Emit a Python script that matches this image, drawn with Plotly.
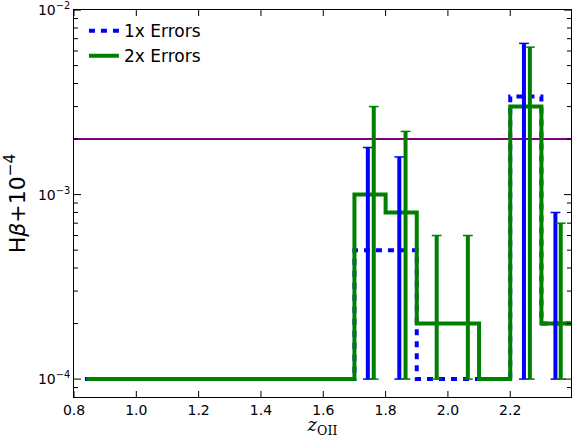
import plotly.graph_objects as go

# Step histograms (bin edges and values)
edges_1x = [0.835, 1.7, 1.8, 1.9, 2.0, 2.1, 2.2, 2.3, 2.4]
vals_1x = [1e-4, 5e-4, 5e-4, 1e-4, 1e-4, 1e-4, 3.4e-3, 2e-4]
edges_2x = [0.84, 1.7, 1.8, 1.9, 2.0, 2.1, 2.2, 2.3, 2.4]
vals_2x = [1e-4, 1e-3, 8e-4, 2e-4, 2e-4, 1e-4, 3.0e-3, 2e-4]

# Error bars (x position, top value; bottom at 1e-4)
err_x_1x = [1.743, 1.844, 2.244, 2.345]
err_top_1x = [1.8e-3, 1.6e-3, 6.6e-3, 8e-4]
err_x_2x = [1.762, 1.864, 1.964, 2.064, 2.263, 2.362]
err_top_2x = [3.0e-3, 2.2e-3, 6e-4, 6e-4, 6.3e-3, 7e-4]
err_bottom = 1e-4

hline_y = 2e-3
x_range = [0.8, 2.395]
x_ticks = [0.8, 1.0, 1.2, 1.4, 1.6, 1.8, 2.0, 2.2]
y_range_log = [-4.097, -1.9995]
y_major = [1e-4, 1e-3, 1e-2]
y_major_text = ["10<sup>−4</sup>", "10<sup>−3</sup>", "10<sup>−2</sup>"]
y_minor = [9e-5] + [k * 1e-4 for k in range(2, 10)] + [k * 1e-3 for k in range(2, 10)]

BLUE = "#0000ff"
GREEN = "#008000"
PURPLE = "#800080"

W, H = 572, 438
M = dict(l=74, r=1, t=10, b=41)

fig = go.Figure()

# purple horizontal reference line
fig.add_trace(go.Scatter(x=x_range, y=[hline_y, hline_y], mode="lines",
                         line=dict(color=PURPLE, width=2), showlegend=False,
                         hoverinfo="skip"))

def step_xy(edges, vals):
    xs, ys = [], []
    for i, v in enumerate(vals):
        xs += [edges[i], edges[i + 1]]
        ys += [v, v]
    return xs, ys

bx, by = step_xy(edges_1x, vals_1x)
gx, gy = step_xy(edges_2x, vals_2x)

fig.add_trace(go.Scatter(x=bx, y=by, mode="lines", name="1x Errors",
                         line=dict(color=BLUE, width=4, dash="6px,6px")))
fig.add_trace(go.Scatter(x=gx, y=gy, mode="lines", name="2x Errors",
                         line=dict(color=GREEN, width=4)))

def err_traces(xs, tops, color):
    lx, ly = [], []
    for x, t in zip(xs, tops):
        lx += [x, x, None]
        ly += [err_bottom, t, None]
    fig.add_trace(go.Scatter(x=lx, y=ly, mode="lines",
                             line=dict(color=color, width=4), showlegend=False,
                             hoverinfo="skip"))
    cx = list(xs) + list(xs)
    cy = [err_bottom] * len(xs) + list(tops)
    fig.add_trace(go.Scatter(x=cx, y=cy, mode="markers",
                             marker=dict(symbol="line-ew", size=7,
                                         line=dict(color=color, width=1.5)),
                             showlegend=False, hoverinfo="skip"))

err_traces(err_x_1x, err_top_1x, BLUE)
err_traces(err_x_2x, err_top_2x, GREEN)

# inward tick marks drawn as short line segments, sized from the axis scales
plot_w = W - M["l"] - M["r"]
plot_h = H - M["t"] - M["b"]
x_per_px = (x_range[1] - x_range[0]) / plot_w
dec_per_px = (y_range_log[1] - y_range_log[0]) / plot_h
y_lo, y_hi = 10 ** y_range_log[0], 10 ** y_range_log[1]

tx, ty = [], []
for t in x_ticks:
    tx += [t, t, None, t, t, None]
    ty += [y_lo, y_lo * 10 ** (6 * dec_per_px), None,
           y_hi, y_hi / 10 ** (6 * dec_per_px), None]
for vals, length in ((y_major, 7), (y_minor, 4)):
    for v in vals:
        tx += [x_range[0], x_range[0] + length * x_per_px, None,
               x_range[1], x_range[1] - length * x_per_px, None]
        ty += [v, v, None, v, v, None]
fig.add_trace(go.Scatter(x=tx, y=ty, mode="lines",
                         line=dict(color="black", width=1),
                         showlegend=False, hoverinfo="skip"))

fig.update_layout(
    template="none",
    width=W, height=H,
    margin=M,
    paper_bgcolor="white", plot_bgcolor="white",
    font=dict(family="DejaVu Sans", size=14, color="black"),
    legend=dict(x=0.02, y=0.992, xanchor="left", yanchor="top",
                bgcolor="rgba(0,0,0,0)", font=dict(size=17),
                itemwidth=30, tracegroupgap=0),
    showlegend=True,
    xaxis=dict(
        range=x_range, tickmode="array", tickvals=x_ticks, tickformat=".1f",
        ticks="", showline=True, linecolor="black", linewidth=1, mirror=True,
        showgrid=False, zeroline=False, automargin=False,
        title=dict(text="<i>z</i><sub>OII</sub>",
                   font=dict(family="DejaVu Serif", size=18), standoff=0),
    ),
    yaxis=dict(
        type="log", range=y_range_log, tickmode="array",
        tickvals=y_major, ticktext=y_major_text, ticklabeloverflow="allow",
        ticks="", showline=True, linecolor="black", linewidth=1, mirror=True,
        showgrid=False, zeroline=False, automargin=False,
        title=dict(text="H<i>β</i>+10<sup>−4</sup>",
                   font=dict(family="DejaVu Sans", size=22), standoff=6),
    ),
)

fig.write_html("out.html", config={"displayModeBar": False},
               post_script="document.body.style.margin='0';")
